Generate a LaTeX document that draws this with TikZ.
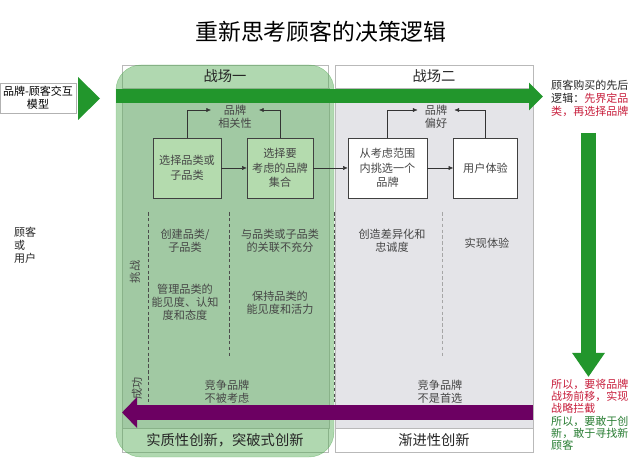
\documentclass[tikz,border=0pt]{standalone}
\usepackage{fontspec}
\setmainfont{Noto Sans CJK SC}
\usetikzlibrary{arrows.meta}
\definecolor{arrowgreen}{RGB}{34,150,44}
\definecolor{fieldgray}{RGB}{228,228,232}
\definecolor{boxgreen}{RGB}{180,219,174}
\definecolor{overlaygreen}{RGB}{80,170,80}
\definecolor{pathpurple}{RGB}{108,0,98}
\definecolor{notered}{RGB}{200,30,60}
\definecolor{notegreen}{RGB}{40,125,50}
\definecolor{textgray}{RGB}{70,70,70}

\begin{document}
\begin{tikzpicture}[x=0.03cm,y=-0.03cm,>={Latex[length=4pt,width=3.5pt]},line cap=butt,
  stepbox/.style={draw=black!75,minimum height=1.8cm,align=center,inner sep=1pt,
    text=textgray,font=\fontsize{9.5}{12.5}\selectfont},
  celltext/.style={align=center,inner sep=1pt,text=textgray,font=\fontsize{9.5}{11}\selectfont},
  headtext/.style={text=black!85,font=\fontsize{12.2}{14}\selectfont},
  sidetext/.style={align=left,inner sep=0pt,text=black!85,font=\fontsize{9.4}{11}\selectfont},
  framebox/.style={draw=gray!55,line width=0.6pt},
  sepline/.style={densely dashed,draw=gray!60!black,line width=0.5pt}]
\useasboundingbox (0,0) rectangle (640,459);
\fill[white] (0,0) rectangle (640,459);

\node[font=\fontsize{19.5}{22}\selectfont] (title) at (321,32) {重新思考顾客的决策逻辑};

\node[draw=gray!60,fill=white,minimum width=2.28cm,minimum height=0.9cm,align=center,
  inner sep=1pt,font=\fontsize{9.4}{11}\selectfont] (modelbox) at (38,98) {品牌-顾客交互\\模型};
\fill[arrowgreen] (78,77) -- (100,98.5) -- (78,120) -- cycle;

\node[sidetext,anchor=west] (customer) at (14,245) {顾客\\或\\用户};

\draw[framebox,fill=white] (122,65) rectangle (328,452);
\draw[framebox,fill=fieldgray] (122,88) rectangle (329,428);
\draw[framebox,fill=white] (335,65) rectangle (533,452);
\draw[framebox,fill=fieldgray] (335,88) rectangle (533,428);
\fill[overlaygreen,fill opacity=0.45,draw=overlaygreen,draw opacity=0.5,rounded corners=0.75cm]
  (116,65) rectangle (334,457);

\node[headtext] (field1) at (225,76.5) {战场一};
\node[headtext] (field2) at (434,76.5) {战场二};
\node[headtext] (radical) at (225,440) {实质性创新，突破式创新};
\node[headtext] (gradual) at (434,440) {渐进性创新};

\node[stepbox,fill=boxgreen,minimum width=2.04cm] (sel1) at (187,168) {选择品类或\\子品类};
\node[stepbox,fill=boxgreen,minimum width=1.98cm] (sel2) at (280,168) {选择要\\考虑的品牌\\集合};
\node[stepbox,fill=white,minimum width=2.37cm] (sel3) at (387.5,168) {从考虑范围\\内挑选一个\\品牌};
\node[stepbox,fill=white,minimum width=1.92cm] (exp4) at (485.5,168) {用户体验};

\node[celltext,inner xsep=6pt] (rel) at (235,117) {品牌\\相关性};
\node[celltext,inner xsep=6pt] (pref) at (436,117) {品牌\\偏好};

\draw[->,black!80] (sel1) -- (sel2);
\draw[->,black!80] (sel2) -- (sel3);
\draw[->,black!80] (sel3) -- (exp4);
\draw[->,black!80] (sel1.north) |- ([yshift=0.21cm]rel.west);
\draw[->,black!80] (sel2.north) |- ([yshift=0.21cm]rel.east);
\draw[->,black!80] (sel3.north) |- ([yshift=0.21cm]pref.west);
\draw[->,black!80] (exp4.north) |- ([yshift=0.21cm]pref.east);

\draw[sepline] (148,212) -- (148,402);
\draw[sepline] (229,212) -- (229,358);
\draw[sepline] (334,212) -- (334,402);
\draw[sepline,draw=gray!70] (442,212) -- (442,358);

\node[celltext,rotate=90] (challenge) at (135,272) {挑战};
\node[celltext,rotate=90] (success) at (137,388) {成功};

\node[celltext] (create) at (185,241) {创建品类/\\子品类};
\node[celltext] (manage) at (185,302) {管理品类的\\能见度、认知\\度和态度};
\node[celltext] (weaklink) at (280,241) {与品类或子品类\\的关联不充分};
\node[celltext] (keep) at (280,303) {保持品类的\\能见度和活力};
\node[celltext] (loyal) at (392,241) {创造差异化和\\忠诚度};
\node[celltext] (deliver) at (487,243) {实现体验};
\node[celltext] (notconsidered) at (227,392) {竞争品牌\\不被考虑};
\node[celltext] (notpreferred) at (440,392) {竞争品牌\\不是首选};

\coordinate (flowstart) at (116,96.5);
\coordinate (flowend) at (543,96.5);
\draw[arrowgreen,line width=0.42cm,-{Triangle[length=0.42cm,width=0.81cm]}] (flowstart) -- (flowend);

\coordinate (backstart) at (533,412.5);
\coordinate (backend) at (122,412.5);
\draw[pathpurple,line width=0.45cm,-{Triangle[length=0.45cm,width=0.9cm]}] (backstart) -- (backend);

\coordinate (downstart) at (588.5,133);
\coordinate (downend) at (588.5,377);
\draw[arrowgreen,line width=0.45cm,-{Triangle[length=0.72cm,width=0.93cm]}] (downstart) -- (downend);

\node[sidetext,anchor=north west] (buyorder) at (551,80)
  {顾客购买的先后\\逻辑：\textcolor{notered}{先界定品}\\\textcolor{notered}{类，再选择品牌}};
\node[sidetext,anchor=north west,font=\fontsize{9.4}{10.4}\selectfont] (shiftnote) at (551,379)
  {\textcolor{notered}{所以，要将品牌}\\\textcolor{notered}{战场前移，实现}\\\textcolor{notered}{战略拦截}\\
   \textcolor{notegreen}{所以，要敢于创}\\\textcolor{notegreen}{新，敢于寻找新}\\\textcolor{notegreen}{顾客}};
\end{tikzpicture}
\end{document}
